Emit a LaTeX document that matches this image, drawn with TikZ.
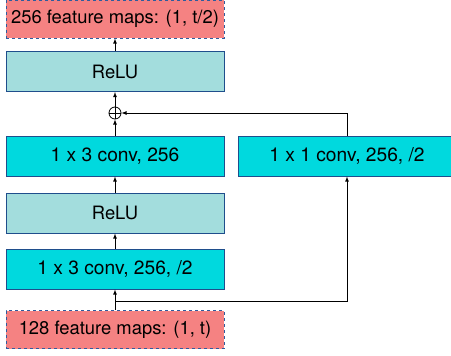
\documentclass[tikz,border=0pt]{standalone}
\usepackage{fontspec}
\setmainfont{TeX Gyre Heros}
\usepackage{tikz}
\usetikzlibrary{calc}

\definecolor{mapred}{HTML}{F58282}
\definecolor{mapblue}{HTML}{2E5C9E}
\definecolor{relufill}{HTML}{A3DDDD}
\definecolor{convfill}{HTML}{00D9DE}
\definecolor{boxline}{HTML}{1F4E8C}

\begin{document}
\begin{tikzpicture}[x=1pt,y=-1pt,
    featmap/.style={
      draw=mapblue,
      dashed,
      line width=1pt,
      fill=mapred,
      minimum width=218pt,
      minimum height=38pt,
      font=\fontsize{18.4}{20}\selectfont
    }]
\tikzset{layer/.style = {draw=boxline,line width=1pt,minimum width=218pt,minimum height=40pt,font=\fontsize{18.4}{20}\selectfont}}
\tikzset{relu/.style = {layer,fill=relufill}}
\tikzset{conv/.style = {layer,fill=convfill,font=\fontsize{19.2}{21}\selectfont}}
\tikzset{edge/.style = {->,>=latex,line width=0.8pt}}
\useasboundingbox (0,0) rectangle (451,356);
\node[featmap] (out) at (115,19) {256 feature maps: (1, t/2)};
\node[relu] (relua) at (115,71.5) {ReLU};
\node[circle,draw,line width=0.8pt,inner sep=0pt,minimum size=12pt] (sum) at (115,113) {};
\draw[line width=0.8pt] (sum.north) -- (sum.south) (sum.west) -- (sum.east);
\node[conv] (convb) at (115,156) {1 x 3 conv, 256};
\node[conv] (short) at (347,156) {1 x 1 conv, 256, /2};
\node[relu] (relub) at (115,213) {ReLU};
\node[conv] (conva) at (115,269) {1 x 3 conv, 256, /2};
\node[featmap] (in) at (115,329.5) {128 feature maps: (1, t)};
\coordinate (split) at (115,301);
% main path
\draw[edge] (in) to (conva);
\draw[edge] (conva) to (relub);
\draw[edge] (relub) to (convb);
\draw[edge] (convb) to (sum);
\draw[edge] (sum) to (relua);
\draw[edge] (relua) to (out);
% shortcut
\draw[edge] (split) -| (short.south);
\draw[edge] (short.north) |- (sum.east);
\end{tikzpicture}
\end{document}
